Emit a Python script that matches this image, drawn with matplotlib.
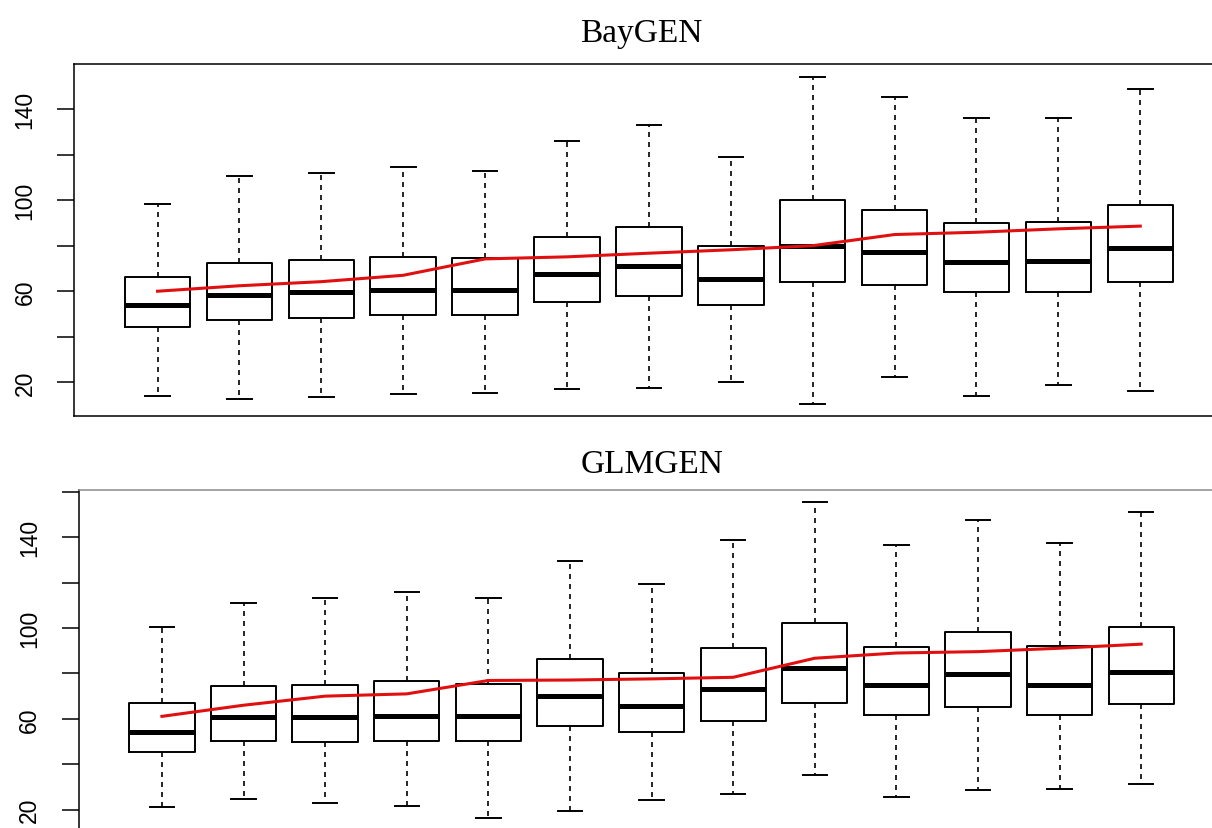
import matplotlib
matplotlib.use('Agg')
import matplotlib.pyplot as plt
import numpy as np

# BayGEN boxplot summaries (13 groups)
bay_low = [14.1, 12.7, 13.7, 14.7, 15.2, 17.1, 17.5, 20.3, 10.5, 22.5, 13.8, 19.0, 16.3]
bay_q1 = [44.4, 47.4, 48.1, 49.6, 49.6, 55.4, 58.1, 54.0, 64.2, 62.9, 59.6, 59.6, 64.2]
bay_med = [54.0, 58.4, 59.6, 60.6, 60.6, 67.6, 71.0, 65.4, 80.0, 77.4, 72.7, 73.2, 78.9]
bay_q3 = [66.4, 72.4, 73.9, 75.2, 74.5, 83.7, 88.1, 79.8, 100.1, 95.7, 90.0, 90.6, 97.9]
bay_high = [98.4, 110.4, 112.1, 114.5, 112.7, 126.2, 133.1, 118.9, 153.9, 145.3, 136.3, 136.3, 148.8]
bay_mean = [60.0, 62.4, 64.2, 67.0, 74.2, 75.1, 76.7, 78.2, 80.0, 84.9, 85.9, 87.4, 88.6]

# GLMGEN boxplot summaries
glm_low = [21.0, 24.7, 22.8, 21.5, 16.3, 19.3, 24.3, 26.9, 35.4, 25.7, 28.7, 29.1, 31.3]
glm_q1 = [45.3, 50.1, 49.7, 50.1, 50.4, 56.7, 54.1, 59.1, 66.9, 61.9, 65.4, 61.9, 66.6]
glm_med = [54.4, 61.0, 60.7, 61.4, 61.4, 70.0, 65.8, 73.2, 82.3, 74.9, 79.8, 74.9, 80.5]
glm_q3 = [66.9, 74.4, 75.1, 76.6, 75.4, 86.3, 80.2, 91.1, 102.1, 91.8, 98.4, 92.0, 100.4]
glm_high = [100.3, 110.9, 113.1, 115.8, 113.1, 129.4, 119.4, 138.8, 155.4, 136.7, 147.8, 137.5, 151.0]
glm_mean = [61.1, 66.0, 70.0, 71.0, 76.9, 77.1, 77.6, 78.3, 86.7, 89.0, 89.6, 91.1, 92.9]

ytick_vals = [20, 40, 60, 80, 100, 120, 140, 160]
ytick_text = ['20', '', '60', '', '100', '', '140', '']

W, H = 1212, 829
fig = plt.figure(figsize=(W / 100, H / 100), dpi=100)


def panel(rect, low, q1, med, q3, high, mean, ylim, edge):
    ax = fig.add_axes(rect)
    stats = []
    for i in range(len(med)):
        stats.append(dict(whislo=low[i], q1=q1[i], med=med[i], q3=q3[i],
                          whishi=high[i], fliers=[]))
    pos = np.arange(1, len(med) + 1)
    ax.bxp(stats, positions=pos, widths=0.8, capwidths=0.3, showfliers=False,
           boxprops=dict(color='black', linewidth=1.4),
           medianprops=dict(color='black', linewidth=3.6, solid_capstyle='butt'),
           whiskerprops=dict(color='black', linewidth=1.2, linestyle=(0, (3, 3))),
           capprops=dict(color='black', linewidth=1.4))
    ax.plot(pos, mean, color='#e01010', linewidth=2.2, zorder=5)
    ax.set_xlim(-0.02, 14.02)
    ax.set_ylim(*ylim)
    ax.set_xticks([])
    ticks = [t for t in ytick_vals if t <= ylim[1]]
    ax.set_yticks(ticks)
    ax.set_yticklabels(ytick_text[:len(ticks)], fontfamily='Liberation Sans',
                       fontsize=16.5, rotation=90, va='center')
    ax.tick_params(axis='y', length=12, width=1.1, pad=15)
    for s in ax.spines.values():
        s.set_linewidth(1.1)
    ax.spines['top'].set_color(edge)
    return ax


panel([74 / W, (H - 417) / H, (1223.8 - 74) / W, (417 - 65) / H],
      bay_low, bay_q1, bay_med, bay_q3, bay_high, bay_mean, (5.2, 159.8), 'black')
panel([78.7 / W, (H - 832) / H, (1224.4 - 78.7) / W, (832 - 491) / H],
      glm_low, glm_q1, glm_med, glm_q3, glm_high, glm_mean, (10.6, 160.8), '#8c8c8c')

fig.text(641 / W, 1 - 41.7 / H, 'BayGEN', ha='center', va='baseline',
         fontfamily='Liberation Serif', fontsize=24)
fig.text(652 / W, 1 - 473.3 / H, 'GLMGEN', ha='center', va='baseline',
         fontfamily='Liberation Serif', fontsize=24)

fig.savefig('out.png', dpi=100)
